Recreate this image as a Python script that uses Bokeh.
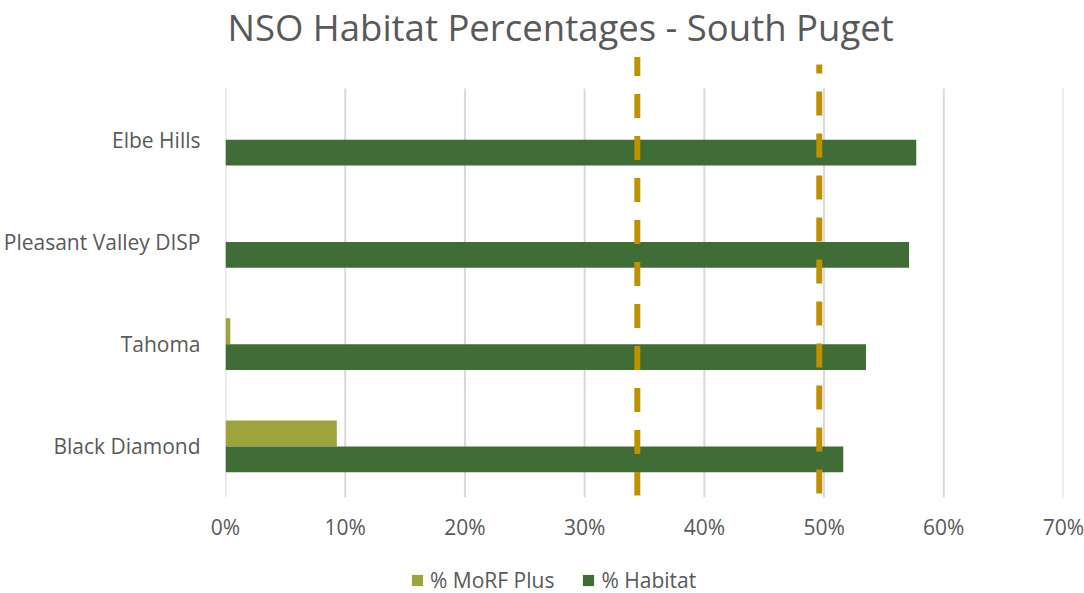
from bokeh.plotting import figure
from bokeh.layouts import column
from bokeh.models import (Range1d, FixedTicker, NumeralTickFormatter, Label,
                          Legend, LegendItem, ColumnDataSource)
from bokeh.embed import file_html
from bokeh.resources import INLINE

# ---- data -------------------------------------------------------------
categories = ["Black Diamond", "Tahoma", "Pleasant Valley DISP", "Elbe Hills"]
morf_plus = [0.093, 0.004, 0.0, 0.0]
habitat = [0.516, 0.535, 0.571, 0.577]
thresholds = [0.344, 0.496]
x_ticks = [0.0, 0.1, 0.2, 0.3, 0.4, 0.5, 0.6, 0.7]
series_names = ["% MoRF Plus", "% Habitat"]

TITLE = "NSO Habitat Percentages - South Puget"
FONT = "Open Sans"
TEXT_COLOR = "#595959"
HABITAT_COLOR = "#406C36"
MORF_COLOR = "#9EA33E"
TARGET_COLOR = "#BF9000"
GRID_COLOR = "#D9D9D9"

n = len(categories)
bar_h = 0.254
band_px = 409.0           # pixel height of the category band
top_px = 88.0             # space above the band (title + target line heads)
px_per_unit = band_px / n
y_end = n + top_px / px_per_unit

p = figure(width=1084, height=548, output_backend="svg", toolbar_location=None,
           x_range=Range1d(0, 0.7), y_range=Range1d(0, y_end),
           min_border_left=225, min_border_right=21,
           min_border_top=0, min_border_bottom=51)
p.outline_line_color = None
p.xgrid.visible = False
p.ygrid.visible = False

# vertical gridlines, only across the category band
p.segment(x0=x_ticks, x1=x_ticks, y0=[0] * len(x_ticks), y1=[n] * len(x_ticks),
          line_color=GRID_COLOR, line_width=2)

centers = [i + 0.5 for i in range(n)]
src = ColumnDataSource(dict(
    cat=categories, morf=morf_plus, hab=habitat,
    y_morf=[c + bar_h / 2 for c in centers],
    y_hab=[c - bar_h / 2 for c in centers],
))
p.hbar(y="y_morf", left=0, right="morf", height=bar_h, source=src,
       fill_color=MORF_COLOR, line_color=None)
p.hbar(y="y_hab", left=0, right="hab", height=bar_h, source=src,
       fill_color=HABITAT_COLOR, line_color=None)

# dashed target lines (heads start a little above the band)
head_px = [31.5, 24.0]
offsets = [5, 15]
for t, h, off in zip(thresholds, head_px, offsets):
    p.segment(x0=[t], x1=[t], y0=[n + h / px_per_unit], y1=[0.02],
              line_color=TARGET_COLOR, line_width=6, line_dash="24 18",
              line_dash_offset=off)

# title
p.add_layout(Label(x=2, y=n + 62 / px_per_unit, x_units="screen", text=TITLE,
                   text_align="left", text_baseline="middle",
                   text_font=FONT, text_font_size="36.5px",
                   text_color=TEXT_COLOR))

# axes
p.yaxis.ticker = FixedTicker(ticks=centers)
p.yaxis.major_label_overrides = {c: name for c, name in zip(centers, categories)}
p.yaxis.axis_line_color = None
p.yaxis.major_tick_line_color = None
p.yaxis.minor_tick_line_color = None
p.yaxis.major_label_standoff = 19
p.yaxis.major_label_text_font = FONT
p.yaxis.major_label_text_font_size = "21px"
p.yaxis.major_label_text_color = TEXT_COLOR

p.xaxis.ticker = FixedTicker(ticks=x_ticks)
p.xaxis.formatter = NumeralTickFormatter(format="0%")
p.xaxis.axis_line_color = None
p.xaxis.major_tick_line_color = None
p.xaxis.minor_tick_line_color = None
p.xaxis.major_label_standoff = 9
p.xaxis.major_label_text_font = FONT
p.xaxis.major_label_text_font_size = "21px"
p.xaxis.major_label_text_color = TEXT_COLOR

# legend strip under the chart; the swatch renderers sit outside its view
lf = figure(width=1084, height=45, output_backend="svg", toolbar_location=None,
            x_range=Range1d(0, 1), y_range=Range1d(0, 1),
            min_border=0, outline_line_color=None)
lf.axis.visible = False
lf.grid.visible = False
swatches = [lf.hbar(y=[5], left=[5], right=[6], height=1, fill_color=c,
                    line_color=None)
            for c in (MORF_COLOR, HABITAT_COLOR)]
legend = Legend(items=[LegendItem(label=name, renderers=[r])
                       for name, r in zip(series_names, swatches)],
                orientation="horizontal", location=(185, -1),
                label_text_font=FONT, label_text_font_size="21px",
                label_text_color=TEXT_COLOR, glyph_width=14, glyph_height=14,
                spacing=27, label_standoff=6, padding=2, margin=0,
                background_fill_alpha=0, border_line_color=None)
lf.add_layout(legend)

open("out.html", "w").write(file_html(column(p, lf), INLINE))
